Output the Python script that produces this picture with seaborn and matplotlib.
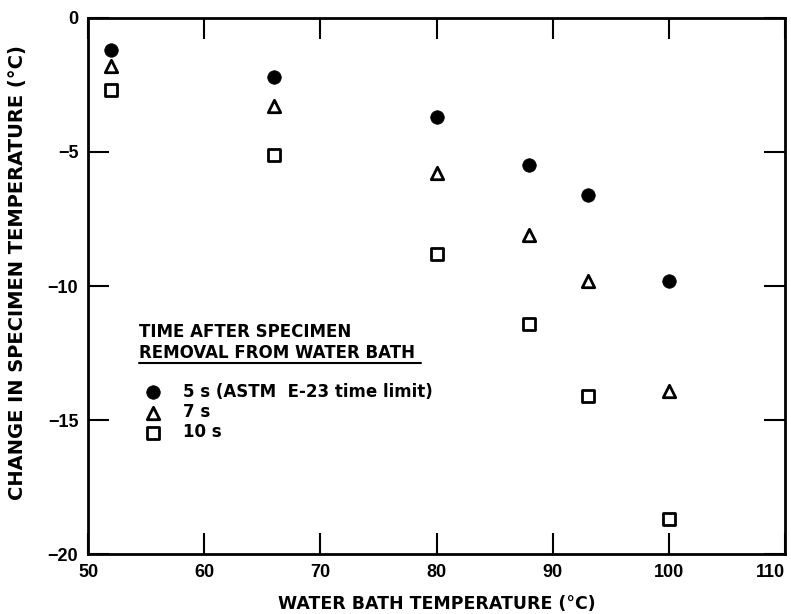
import matplotlib
matplotlib.use("Agg")
import matplotlib.pyplot as plt
import seaborn as sns
import pandas as pd

# Data
bath_temp = [52, 66, 80, 88, 93, 100]
change_5s = [-1.2, -2.2, -3.7, -5.5, -6.6, -9.8]
change_7s = [-1.8, -3.3, -5.8, -8.1, -9.8, -13.9]
change_10s = [-2.7, -5.1, -8.8, -11.4, -14.1, -18.7]

series_labels = ["5 s (ASTM  E-23 time limit)", "7 s", "10 s"]
x_ticks = [50, 60, 70, 80, 90, 100, 110]
y_ticks = [0, -5, -10, -15, -20]
y_tick_labels = ["0", "\u22125", "\u221210", "\u221215", "\u221220"]

sns.set_theme(style="white")
plt.rcParams["font.family"] = ["DejaVu Sans"]
plt.rcParams["font.weight"] = "bold"
plt.rcParams["text.color"] = "black"
plt.rcParams["axes.labelcolor"] = "black"
plt.rcParams["xtick.color"] = "black"
plt.rcParams["ytick.color"] = "black"
TICKFONT = "Liberation Sans"

fig = plt.figure(figsize=(7.91, 6.14), dpi=100)
ax = fig.add_axes([0.1113, 0.0977, 0.8811, 0.873])

df5 = pd.DataFrame({"x": bath_temp, "y": change_5s})
df7 = pd.DataFrame({"x": bath_temp, "y": change_7s})
df10 = pd.DataFrame({"x": bath_temp, "y": change_10s})

sns.scatterplot(data=df5, x="x", y="y", ax=ax, marker="o", s=95,
                color="black", edgecolor="black", linewidth=0.5,
                label=series_labels[0], zorder=3)
sns.scatterplot(data=df7, x="x", y="y", ax=ax, marker="^", s=80,
                color="white", edgecolor="black", linewidth=2.0,
                label=series_labels[1], zorder=3)
sns.scatterplot(data=df10, x="x", y="y", ax=ax, marker="s", s=75,
                color="white", edgecolor="black", linewidth=2.0,
                label=series_labels[2], zorder=3)

ax.set_xlim(50, 110)
ax.set_ylim(-20, 0)
ax.set_xticks(x_ticks)
ax.set_yticks(y_ticks)
ax.set_xticklabels([str(v) for v in x_ticks], fontfamily=TICKFONT, fontweight="bold")
ax.set_yticklabels(y_tick_labels, fontfamily=TICKFONT, fontweight="bold")
ax.get_xticklabels()[-1].set_horizontalalignment("right")

for sp in ax.spines.values():
    sp.set_visible(True)
    sp.set_color("black")
    sp.set_linewidth(2.0)

ax.tick_params(axis="both", which="major", direction="in", length=15, width=1.5,
               color="black", labelsize=13, top=True, right=True,
               bottom=True, left=True, labelcolor="black")
ax.tick_params(axis="x", pad=7)
ax.tick_params(axis="y", pad=7)

ax.set_xlabel("WATER BATH TEMPERATURE (\u00b0C)", fontsize=12.5, fontweight="bold",
              color="black", labelpad=10)
ax.set_ylabel("CHANGE IN SPECIMEN TEMPERATURE (\u00b0C)", fontsize=14,
              fontweight="bold", color="black")
ax.yaxis.set_label_coords(-0.088, 0.526)

# Legend title text (two lines, second underlined)
ax.text(0.073, 0.414, "TIME AFTER SPECIMEN", transform=ax.transAxes,
        fontsize=12, fontweight="bold", va="center", ha="left", color="black")
ax.text(0.073, 0.375, "REMOVAL FROM WATER BATH", transform=ax.transAxes,
        fontsize=12, fontweight="bold", va="center", ha="left", color="black")
ax.plot([0.073, 0.478], [0.357, 0.357], transform=ax.transAxes,
        color="black", linewidth=1.5, clip_on=False)

leg = ax.legend(loc="upper left", bbox_to_anchor=(0.072, 0.332), frameon=False,
                fontsize=12, handletextpad=1.3, labelspacing=0.13,
                borderaxespad=0.0, handlelength=1.0)
for t in leg.get_texts():
    t.set_fontweight("bold")
    t.set_color("black")

fig.savefig("out.png", dpi=100)
